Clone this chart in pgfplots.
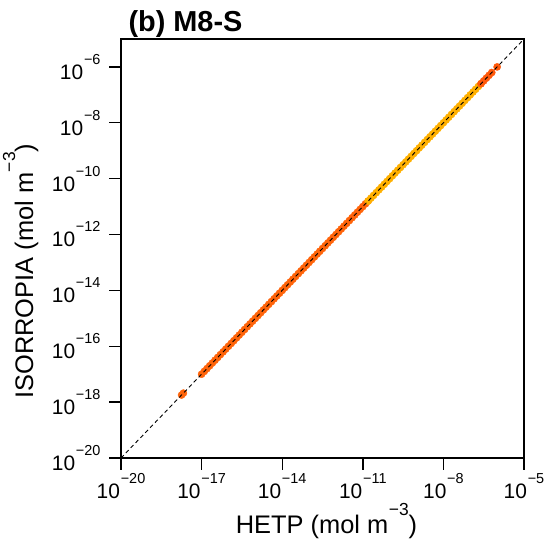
\documentclass[border=0pt]{standalone}
\usepackage{fontspec}
\setmainfont{Liberation Sans}
\usepackage{pgfplots}
\usepackage{pgfplotstable}
\pgfplotsset{compat=1.18}

\definecolor{ptorange}{RGB}{255,100,10}
\definecolor{ptyellow}{RGB}{255,176,0}
\definecolor{ptred}{RGB}{255,88,10}

\newcommand{\pw}[1]{10\kern0.8bp\raisebox{15bp}{\fontsize{14.5}{15}\selectfont −#1}}
\newcommand{\ex}[1]{\kern0.5bp\raisebox{18bp}{\fontsize{17.5}{18}\selectfont −#1}}

% orange-red points (HETP vs ISORROPIA, mol m^-3)
\pgfplotstableread{
hetp isorropia
1.80e-18 1.80e-18
2.10e-18 2.10e-18
1.00e-17 1.00e-17
1.26e-17 1.26e-17
1.58e-17 1.58e-17
2.00e-17 2.00e-17
2.51e-17 2.51e-17
3.16e-17 3.16e-17
3.98e-17 3.98e-17
5.01e-17 5.01e-17
6.31e-17 6.31e-17
7.94e-17 7.94e-17
1.00e-16 1.00e-16
1.26e-16 1.26e-16
1.58e-16 1.58e-16
2.00e-16 2.00e-16
2.51e-16 2.51e-16
3.16e-16 3.16e-16
3.98e-16 3.98e-16
5.01e-16 5.01e-16
6.31e-16 6.31e-16
7.94e-16 7.94e-16
1.00e-15 1.00e-15
1.26e-15 1.26e-15
1.58e-15 1.58e-15
2.00e-15 2.00e-15
2.51e-15 2.51e-15
3.16e-15 3.16e-15
3.98e-15 3.98e-15
5.01e-15 5.01e-15
6.31e-15 6.31e-15
7.94e-15 7.94e-15
1.00e-14 1.00e-14
1.26e-14 1.26e-14
1.58e-14 1.58e-14
2.00e-14 2.00e-14
2.51e-14 2.51e-14
3.16e-14 3.16e-14
3.98e-14 3.98e-14
5.01e-14 5.01e-14
6.31e-14 6.31e-14
7.94e-14 7.94e-14
1.00e-13 1.00e-13
1.26e-13 1.26e-13
1.58e-13 1.58e-13
2.00e-13 2.00e-13
2.51e-13 2.51e-13
3.16e-13 3.16e-13
3.98e-13 3.98e-13
5.01e-13 5.01e-13
6.31e-13 6.31e-13
7.94e-13 7.94e-13
1.00e-12 1.00e-12
1.26e-12 1.26e-12
1.58e-12 1.58e-12
2.00e-12 2.00e-12
2.51e-12 2.51e-12
3.16e-12 3.16e-12
3.98e-12 3.98e-12
5.01e-12 5.01e-12
6.31e-12 6.31e-12
7.94e-12 7.94e-12
1.00e-11 1.00e-11
1.26e-11 1.26e-11
1.58e-11 1.58e-11
}\orangedata

% yellow-orange points
\pgfplotstableread{
hetp isorropia
1.58e-11 1.58e-11
2.00e-11 2.00e-11
2.51e-11 2.51e-11
3.16e-11 3.16e-11
3.98e-11 3.98e-11
5.01e-11 5.01e-11
6.31e-11 6.31e-11
7.94e-11 7.94e-11
1.00e-10 1.00e-10
1.26e-10 1.26e-10
1.58e-10 1.58e-10
2.00e-10 2.00e-10
2.51e-10 2.51e-10
3.16e-10 3.16e-10
3.98e-10 3.98e-10
5.01e-10 5.01e-10
6.31e-10 6.31e-10
7.94e-10 7.94e-10
1.00e-9 1.00e-9
1.26e-9 1.26e-9
1.58e-9 1.58e-9
2.00e-9 2.00e-9
2.51e-9 2.51e-9
3.16e-9 3.16e-9
3.98e-9 3.98e-9
5.01e-9 5.01e-9
6.31e-9 6.31e-9
7.94e-9 7.94e-9
1.00e-8 1.00e-8
1.26e-8 1.26e-8
1.58e-8 1.58e-8
2.00e-8 2.00e-8
2.51e-8 2.51e-8
3.16e-8 3.16e-8
3.98e-8 3.98e-8
5.01e-8 5.01e-8
6.31e-8 6.31e-8
7.94e-8 7.94e-8
1.00e-7 1.00e-7
1.26e-7 1.26e-7
1.58e-7 1.58e-7
2.00e-7 2.00e-7
2.51e-7 2.51e-7
}\yellowdata

% red-orange points at the upper end
\pgfplotstableread{
hetp isorropia
2.51e-7 2.51e-7
3.16e-7 3.16e-7
3.98e-7 3.98e-7
5.01e-7 5.01e-7
6.31e-7 6.31e-7
1.00e-6 1.00e-6
}\reddata

\begin{document}
\begin{tikzpicture}
\begin{axis}[
  name=ax, at={(0,0)}, anchor=south west,
  scale only axis, width=403bp, height=419bp,
  set layers,
  xmode=log, ymode=log,
  xmin=1e-20, xmax=1e-5, ymin=1e-20, ymax=1e-5,
  xtick={1e-20,1e-17,1e-14,1e-11,1e-8,1e-5},
  xticklabels={\pw{20},\pw{17},\pw{14},\pw{11},\pw{8},\pw{5}},
  ytick={1e-20,1e-18,1e-16,1e-14,1e-12,1e-10,1e-8,1e-6},
  yticklabels={\pw{20},\pw{18},\pw{16},\pw{14},\pw{12},\pw{10},\pw{8},\pw{6}},
  xminorticks=false, yminorticks=false,
  xtick pos=bottom, ytick pos=left,
  tick align=outside, major tick length=12bp,
  every tick/.style={black, line width=1.4bp},
  axis line style={black, line width=1.6bp},
  ticklabel style={font=\fontsize{21}{24}\selectfont},
  yticklabel style={xshift=-5bp},
  label style={font=\fontsize{25.5}{28}\selectfont},
  xlabel={HETP (mol m\ex{3})},
  ylabel={ISORROPIA (mol m\ex{3})},
  xlabel style={at={(axis description cs:0.51,-0.179)}, anchor=base},
  ylabel style={at={(axis description cs:-0.218,0.446)}, anchor=base},
  clip=false,
]
\addplot[only marks, mark=*, mark size=3.6bp, color=ptorange, mark options={draw=none, fill=ptorange}] table[x=hetp, y=isorropia] {\orangedata};
\addplot[only marks, mark=*, mark size=3.6bp, color=ptyellow, mark options={draw=none, fill=ptyellow}] table[x=hetp, y=isorropia] {\yellowdata};
\addplot[only marks, mark=*, mark size=3.6bp, color=ptred, mark options={draw=none, fill=ptred}] table[x=hetp, y=isorropia] {\reddata};
\addplot[black, line width=0.9bp, dash pattern=on 4bp off 3bp, on layer=axis foreground] coordinates {(1e-20,1e-20) (1e-5,1e-5)};
\node[anchor=base west, font=\fontsize{29}{32}\selectfont\bfseries] at (axis description cs:0,1) [xshift=4bp, yshift=7bp] {(b) M8-S};
\end{axis}
\pgfresetboundingbox
\path (-121bp,-88bp) rectangle (429bp,458bp);
\end{tikzpicture}
\end{document}
